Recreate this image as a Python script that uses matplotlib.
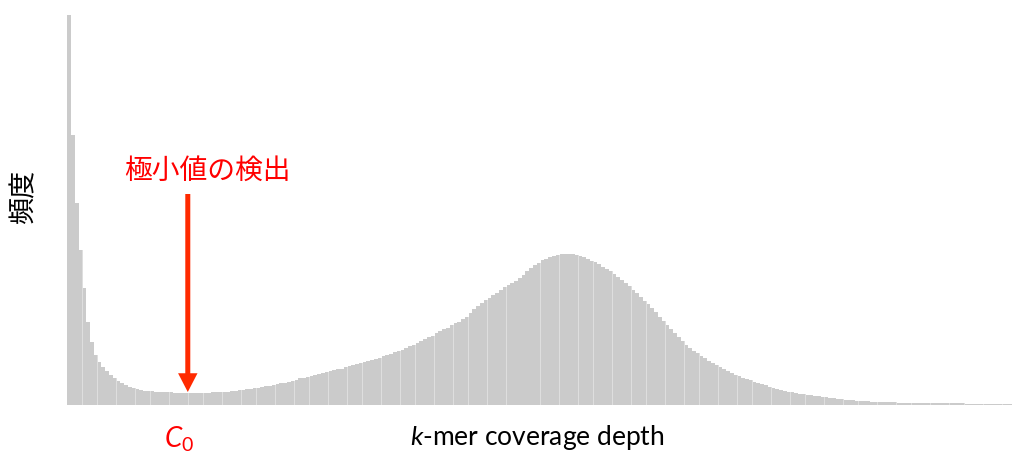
import numpy as np
import matplotlib
matplotlib.use("Agg")
import matplotlib.pyplot as plt
from matplotlib.transforms import blended_transform_factory

plt.rcParams['mathtext.fontset'] = 'custom'
plt.rcParams['mathtext.rm'] = 'Lato'
plt.rcParams['mathtext.it'] = 'Lato:italic'

# k-mer coverage depth bins (1 .. 250) and their frequencies (arbitrary units)
depth = np.arange(1, 251)
frequency = [
    389.5, 270, 202, 155, 117, 83, 63, 50, 43, 38,
    33.5, 30, 27, 24, 22, 19.5, 17.5, 16.5, 15.5, 14.5,
    13.7, 13.4, 13.1, 12.9, 12.7, 12.5, 12.4, 12.2, 12.0, 11.8,
    11.6, 11.5, 11.5, 11.6, 11.7, 11.8, 11.9, 12.0, 12.1, 12.3,
    12.5, 12.7, 13.0, 13.5, 13.9, 14.4, 14.8, 15.3, 15.9, 16.5,
    17.0, 17.6, 18.2, 18.9, 19.5, 20.3, 21.1, 22.0, 22.9, 23.9,
    24.9, 26.1, 26.9, 27.7, 28.7, 29.6, 30.5, 31.4, 32.3, 33.2,
    34.1, 35.1, 36.0, 37.2, 38.7, 39.7, 40.6, 41.5, 42.5, 43.5,
    44.6, 45.7, 46.9, 48.1, 49.5, 51.0, 52.4, 53.5, 55.0, 56.6,
    58.3, 60.0, 61.6, 63.5, 65.3, 67.2, 69.0, 71.2, 73.2, 75.2,
    77.0, 79.2, 81.1, 83.0, 85.1, 87.9, 91.4, 95.2, 98.1, 101.5,
    104.2, 106.9, 109.4, 112.0, 114.7, 117.4, 119.7, 121.9, 124.0, 126.5,
    130.0, 133.5, 137.0, 139.5, 141.8, 144.1, 145.9, 147.1, 148.2, 149.2,
    150.2, 151.0, 150.9, 150.7, 150.0, 148.9, 147.7, 145.9, 144.0, 142.1,
    140.2, 138.0, 135.5, 133.1, 130.5, 127.5, 124.7, 121.5, 118.1, 114.9,
    111.8, 107.9, 104.0, 100.5, 96.7, 92.1, 87.6, 83.5, 79.7, 75.9,
    71.6, 67.3, 63.2, 60.0, 56.8, 53.9, 51.2, 48.5, 46.3, 44.0,
    41.7, 39.5, 37.2, 35.2, 33.3, 31.4, 29.9, 28.4, 26.9, 25.5,
    24.1, 22.8, 21.6, 20.3, 19.2, 18.0, 16.9, 15.8, 14.9, 13.9,
    12.9, 12.1, 11.4, 10.7, 10.2, 9.7, 9.3, 8.8, 8.3, 7.9,
    7.4, 7.0, 6.5, 6.0, 5.5, 5.0, 4.5, 4.1, 3.8, 3.6,
    3.4, 3.2, 3.0, 2.8, 2.7, 2.6, 2.5, 2.4, 2.3, 1.9,
    1.8, 1.7, 1.7, 1.6, 1.6, 1.5, 1.5, 1.4, 1.4, 1.3,
    1.3, 1.2, 1.2, 1.2, 1.1, 1.1, 1.1, 1.0, 1.0, 1.0,
    0.9, 0.9, 0.9, 0.9, 0.8, 0.8, 0.8, 0.8, 0.7, 0.7,
]

# depth at the local minimum between the error peak and the main peak
c0_depth = 32.3

W, H = 1015, 456
fig = plt.figure(figsize=(W / 100, H / 100), dpi=100)
ax = fig.add_axes([65.5 / W, 50.5 / H, 946.5 / W, 390 / H])

# pale underlay so the narrow gaps between bars read as light seams
ax.bar(depth - 0.5, frequency, width=1.0, align='edge', color='#dedede',
       linewidth=0)
ax.bar(depth - 0.5, frequency, width=0.944, align='edge', color='#cbcbcb',
       linewidth=0)
ax.set_xlim(0, len(depth))
ax.set_ylim(0, 390)
ax.axis('off')

red = '#ff0000'
ax.annotate('', xy=(c0_depth, 12.5), xytext=(c0_depth, 210.5),
            arrowprops=dict(arrowstyle='simple,head_length=1.35,head_width=1.4,tail_width=0.36',
                            mutation_scale=10, color='#ff2a00', lw=0,
                            shrinkA=0, shrinkB=0))

ax.text(37.4, 234.5, '極小値の検出', color=red, fontsize=20,
        family=['Noto Sans CJK JP', 'DejaVu Sans'], ha='center', va='center')

trans = blended_transform_factory(ax.transData, fig.transFigure)
ax.text(c0_depth - 2.3, 1 - 439 / H, r'$\mathit{C}_{0}$', color=red, fontsize=20,
        ha='center', va='center', transform=trans)

fig.text(537 / W, 1 - 438 / H, r'$\mathit{k}$-mer coverage depth', fontsize=19,
         family='Lato', ha='center', va='center', color='black')
fig.text(24 / W, 1 - 197 / H, '頻度', fontsize=19.5, rotation=90,
         family=['Noto Sans CJK JP', 'DejaVu Sans'], ha='center', va='center',
         color='black')

fig.savefig('out.png', dpi=100)
